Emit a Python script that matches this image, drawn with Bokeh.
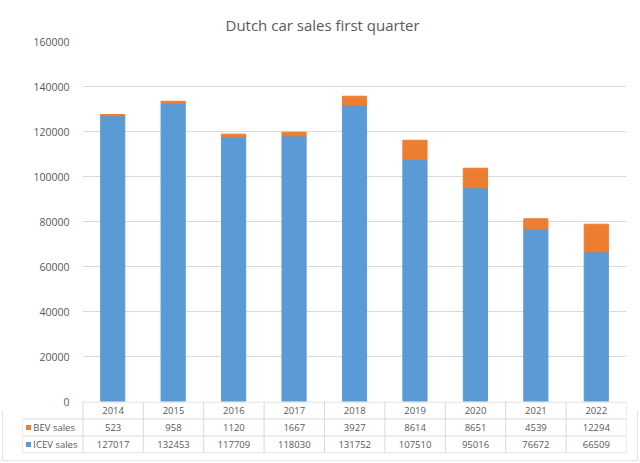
from bokeh.plotting import figure
from bokeh.models import Range1d, FactorRange, FixedTicker, BasicTickFormatter, ColumnDataSource
from bokeh.layouts import column
from bokeh.embed import file_html
from bokeh.resources import INLINE
from bokeh.core.properties import value

years = ["2014", "2015", "2016", "2017", "2018", "2019", "2020", "2021", "2022"]
bev_sales = [523, 958, 1120, 1667, 3927, 8614, 8651, 4539, 12294]
icev_sales = [127017, 132453, 117709, 118030, 131752, 107510, 95016, 76672, 66509]
series_names = ["BEV sales", "ICEV sales"]
y_ticks = [0, 20000, 40000, 60000, 80000, 100000, 120000, 140000, 160000]

BLUE = "#5B9BD5"
ORANGE = "#ED7D31"
TXT = "#595959"
GRID = "#D9D9D9"
FONT = "Open Sans"

source = ColumnDataSource(dict(year=years, ICEV=icev_sales, BEV=bev_sales))

p1 = figure(width=640, height=410, x_range=FactorRange(*years, range_padding=0),
            y_range=Range1d(0, 160000), output_backend="svg", toolbar_location=None,
            x_axis_location=None,
            min_border_left=82, min_border_right=14, min_border_top=41, min_border_bottom=9)
p1.frame_align = False
p1.title.text = "Dutch car sales first quarter"
p1.title.text_font = FONT
p1.title.text_font_size = "15px"
p1.title.text_font_style = "normal"
p1.title.text_color = TXT
p1.title.align = "left"
p1.title.offset = 143
p1.title.vertical_align = "top"
p1.outline_line_color = None
p1.vbar_stack(["ICEV", "BEV"], x="year", width=0.4, color=[BLUE, ORANGE], source=source)
p1.xgrid.visible = False
p1.ygrid.ticker = FixedTicker(ticks=y_ticks)
p1.ygrid.grid_line_color = GRID
p1.yaxis.ticker = FixedTicker(ticks=y_ticks)
p1.yaxis.formatter = BasicTickFormatter(use_scientific=False)
p1.yaxis.axis_line_color = None
p1.yaxis.major_tick_line_color = None
p1.yaxis.minor_tick_line_color = None
p1.yaxis.major_label_text_color = TXT
p1.yaxis.major_label_text_font = FONT
p1.yaxis.major_label_text_font_size = "10.5px"
p1.yaxis.major_label_standoff = 7

n = len(years)
p2 = figure(width=640, height=62, x_range=Range1d(-1, n), y_range=Range1d(-0.029, 3.029),
            output_backend="svg", toolbar_location=None,
            x_axis_location=None, y_axis_location=None,
            min_border_left=22, min_border_right=14, min_border_top=0, min_border_bottom=10)
p2.frame_align = False
p2.margin = (-9, 0, 0, 0)
p2.grid.visible = False
p2.outline_line_color = None
p2.background_fill_alpha = 0
p2.border_fill_alpha = 0

# table grid lines
x0 = [0, -1, -1, -1] + [-1] + list(range(0, n + 1))
y0 = [3, 2, 1, 0] + [0] + [0] * (n + 1)
x1 = [n, n, n, n] + [-1] + list(range(0, n + 1))
y1 = [3, 2, 1, 0] + [2] + [3] * (n + 1)
p2.segment(x0=x0, y0=y0, x1=x1, y1=y1, line_color=GRID, line_width=1)

xs = [i + 0.5 for i in range(n)]
p2.text(x=xs, y=[2.5] * n, text=years, text_align="center", text_baseline="middle",
        text_font=value(FONT), text_font_size="9.5px", text_color=TXT)
p2.text(x=xs, y=[1.5] * n, text=[str(v) for v in bev_sales], text_align="center", text_baseline="middle",
        text_font=value(FONT), text_font_size="9.5px", text_color=TXT)
p2.text(x=xs, y=[0.5] * n, text=[str(v) for v in icev_sales], text_align="center", text_baseline="middle",
        text_font=value(FONT), text_font_size="9.5px", text_color=TXT)

p2.scatter(x=[-0.9, -0.9], y=[1.5, 0.5], marker="square", size=5, color=[ORANGE, BLUE], line_color=None)
p2.text(x=[-0.82, -0.82], y=[1.5, 0.5], text=series_names, text_align="left", text_baseline="middle",
        text_font=value(FONT), text_font_size="9.5px", text_color=TXT)

layout = column(p1, p2, styles={"outline": "1px solid #E2E2E2", "outline-offset": "-3px"})
open("out.html", "w").write(file_html(layout, INLINE))
